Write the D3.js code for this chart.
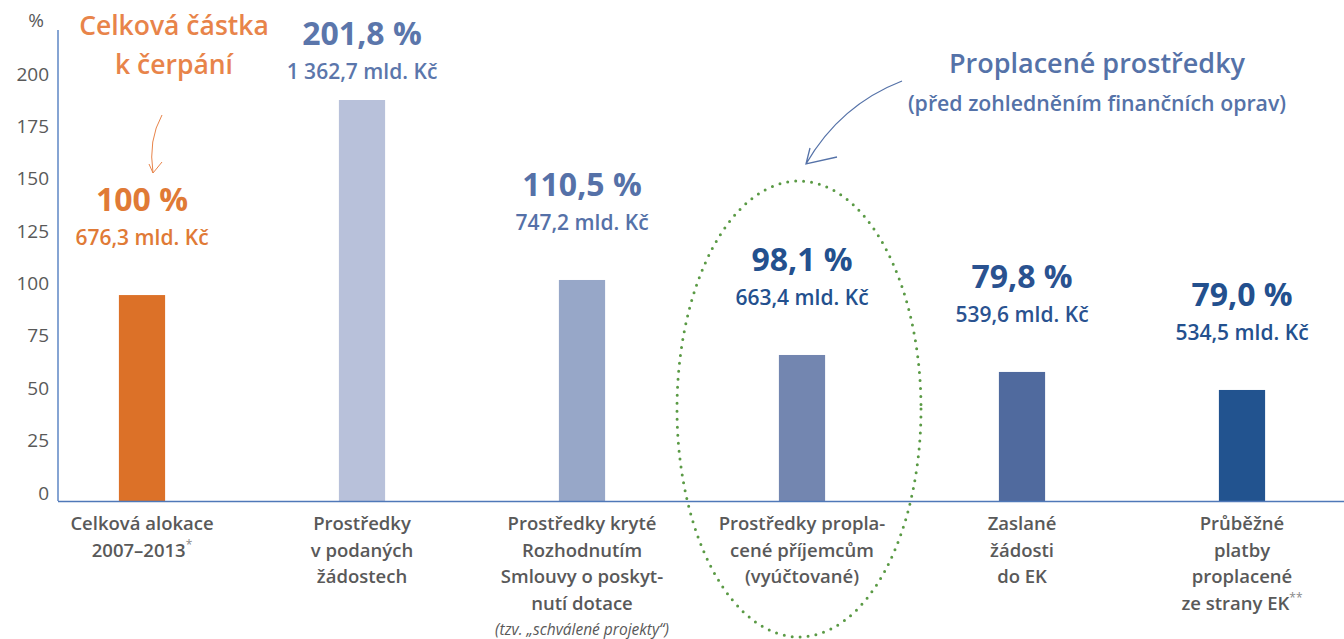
<!DOCTYPE html>
<html>
<head>
<meta charset="utf-8">
<script src="https://cdn.jsdelivr.net/npm/d3@7"></script>
<style>
  body { margin: 0; background: #fff; }
  svg { display: block; font-family: "Open Sans", "Noto Sans", sans-serif; }
</style>
</head>
<body>
<div id="chart"></div>
<script>
const categories = [
    ["Celková alokace", "2007–2013"],
    ["Prostředky", "v podaných", "žádostech"],
    ["Prostředky kryté", "Rozhodnutím", "Smlouvy o poskyt-", "nutí dotace"],
    ["Prostředky propla-", "cené příjemcům", "(vyúčtované)"],
    ["Zaslané", "žádosti", "do EK"],
    ["Průběžné", "platby", "proplacené", "ze strany EK"]
]
const footnotes = ["*", "", "", "", "", "**"];
const values = [98.3, 191.4, 105.5, 69.7, 61.6, 53.0];
const pctLabels = ["100 %", "201,8 %", "110,5 %", "98,1 %", "79,8 %", "79,0 %"];
const amountLabels = ["676,3 mld. Kč", "1 362,7 mld. Kč", "747,2 mld. Kč", "663,4 mld. Kč", "539,6 mld. Kč", "534,5 mld. Kč"];
const yTicks = [0, 25, 50, 75, 100, 125, 150, 175, 200];

const barColors = ["#dc7128", "#b8c1da", "#97a7c8", "#7386b0", "#506a9e", "#22538f"];
const labelColors = ["#e07a36", "#5b76ab", "#5571a8", "#23508e", "#2a5290", "#23508e"];

const width = 1344;
const height = 639;
const margin = { top: 30, bottom: 138, left: 58, right: 0 }

const svg = d3.select('#chart')
    .append('svg')
    .attr('width', width)
    .attr('height', height);

const x = d3.scaleBand()
    .domain(d3.range(categories.length))
    .range([32, 1352])
    .paddingInner(0.79)
    .paddingOuter(0.395);

const y = d3.scaleLinear()
    .domain([0, 200])
    .range([height - margin.bottom, 82]);

const cx = i => x(i) + x.bandwidth() / 2;

// bars
svg.append("g")
    .selectAll("rect")
    .data(values)
    .join("rect")
    .attr("x", (d, i) => x(i))
    .attr("y", d => y(d))
    .attr("width", x.bandwidth())
    .attr("height", d => y(0) - y(d))
    .attr("fill", (d, i) => barColors[i]);

// y axis
const yAxis = svg.append("g")
    .attr("transform", `translate(${margin.left - 9}, -8)`)
    .call(d3.axisLeft(y).tickValues(yTicks).tickSize(0).tickPadding(0));
yAxis.select(".domain").remove();
yAxis.selectAll("text")
    .attr("font-size", "19px")
    .attr("font-family", "Open Sans")
    .attr("fill", "#595959");

svg.append("text")
    .attr("x", 36).attr("y", 27)
    .attr("text-anchor", "middle")
    .attr("font-size", "19px")
    .attr("fill", "#595959")
    .text("%");

svg.append("line")
    .attr("x1", margin.left).attr("x2", margin.left)
    .attr("y1", margin.top).attr("y2", y(0))
    .attr("stroke", "#86a4d3").attr("stroke-width", 2);
svg.append("line")
    .attr("x1", margin.left).attr("x2", width)
    .attr("y1", y(0) + 0.5).attr("y2", y(0) + 0.5)
    .attr("stroke", "#4f78b8").attr("stroke-width", 1.5);

// category labels
const catG = svg.append("g")
    .selectAll("text")
    .data(categories)
    .join("text")
    .attr("text-anchor", "middle")
    .attr("font-size", "18.5px")
    .attr("font-weight", 600)
    .attr("fill", "#595959");
catG.each(function (lines, i) {
    const t = d3.select(this);
    lines.forEach((l, j) => {
        t.append("tspan")
            .attr("x", cx(i))
            .attr("y", 530 + j * 26.5)
            .text(l);
    });
    if (footnotes[i]) {
        t.append("tspan")
            .attr("dy", -8)
            .attr("font-size", "12px")
            .attr("font-weight", 400)
            .attr("fill", "#888")
            .text(footnotes[i]);
    }
});

svg.append("text")
    .attr("x", cx(2)).attr("y", 635)
    .attr("text-anchor", "middle")
    .attr("font-size", "15.5px")
    .attr("font-style", "italic")
    .attr("fill", "#595959")
    .text("(tzv. „schválené projekty“)");

// value labels
const pctY = (d) => Math.max(45, y(d) - 84);
svg.append("g")
    .selectAll("text")
    .data(values)
    .join("text")
    .attr("x", (d, i) => cx(i))
    .attr("y", d => pctY(d))
    .attr("text-anchor", "middle")
    .attr("font-size", "32px")
    .attr("font-weight", 700)
    .attr("fill", (d, i) => labelColors[i])
    .text((d, i) => pctLabels[i]);

svg.append("g")
    .selectAll("text")
    .data(values)
    .join("text")
    .attr("x", (d, i) => cx(i))
    .attr("y", d => pctY(d) + 34)
    .attr("text-anchor", "middle")
    .attr("font-size", "21px")
    .attr("font-weight", 600)
    .attr("fill", (d, i) => labelColors[i])
    .text((d, i) => amountLabels[i]);

// annotation: total to draw
const orange = "#e8844a";
svg.append("text")
    .attr("x", 174).attr("y", 35)
    .attr("text-anchor", "middle")
    .attr("font-size", "26.5px")
    .attr("font-weight", 600)
    .attr("fill", orange)
    .text("Celková částka");
svg.append("text")
    .attr("x", 174).attr("y", 74)
    .attr("text-anchor", "middle")
    .attr("font-size", "26.5px")
    .attr("font-weight", 600)
    .attr("fill", orange)
    .text("k čerpání");
svg.append("path")
    .attr("d", "M162,115 Q148,140 153,173 M149,164 L153,173 L162,162")
    .attr("fill", "none")
    .attr("stroke", orange)
    .attr("stroke-width", 1);

// annotation: paid resources
const blue = "#5572a8";
svg.append("text")
    .attr("x", 1097).attr("y", 73)
    .attr("text-anchor", "middle")
    .attr("font-size", "27px")
    .attr("font-weight", 600)
    .attr("fill", blue)
    .text("Proplacené prostředky");
svg.append("text")
    .attr("x", 1097).attr("y", 111)
    .attr("text-anchor", "middle")
    .attr("font-size", "21.3px")
    .attr("font-weight", 600)
    .attr("fill", blue)
    .text("(před zohledněním finančních oprav)");
svg.append("path")
    .attr("d", "M902,81 Q840,105 806,164 M810,148 L806,164 L837,157")
    .attr("fill", "none")
    .attr("stroke", blue)
    .attr("stroke-width", 1.3);

svg.append("ellipse")
    .attr("cx", cx(3) - 3).attr("cy", 409)
    .attr("rx", 122).attr("ry", 228)
    .attr("fill", "none")
    .attr("stroke", "#5a9a45")
    .attr("stroke-width", 3)
    .attr("stroke-linecap", "round")
    .attr("stroke-dasharray", "0 8");
</script>
</body>
</html>
